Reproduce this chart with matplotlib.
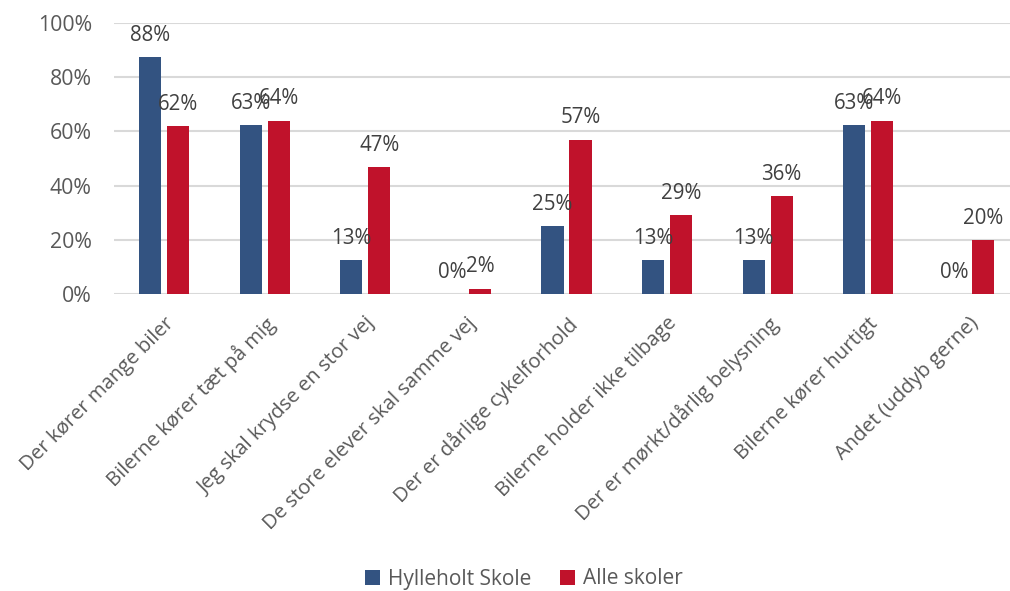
import matplotlib
matplotlib.use("Agg")
import matplotlib.pyplot as plt
import numpy as np

categories = ["Der kører mange biler", "Bilerne kører tæt på mig", "Jeg skal krydse en stor vej",
              "De store elever skal samme vej", "Der er dårlige cykelforhold", "Bilerne holder ikke tilbage",
              "Der er mørkt/dårlig belysning", "Bilerne kører hurtigt", "Andet (uddyb gerne)"]
hylleholt = [87.5, 62.5, 12.5, 0, 25, 12.5, 12.5, 62.5, 0]
alle = [62, 64, 47, 2, 57, 29, 36, 64, 20]
series_names = ["Hylleholt Skole", "Alle skoler"]
yticks = [0, 20, 40, 60, 80, 100]

plt.rcParams['font.family'] = ['Open Sans', 'DejaVu Sans']

W, H = 1010, 591
fig = plt.figure(figsize=(W/100, H/100), dpi=100)
x0, x1 = 114, 1019
y0, y1 = 294, 23
ax = fig.add_axes([x0/W, 1 - y0/H, (x1 - x0)/W, (y0 - y1)/H])

blue = "#335381"
red = "#C0122B"
x = np.arange(len(categories))
bw = 0.22
off = 0.139
b1 = ax.bar(x - off, hylleholt, bw, color=blue, label=series_names[0], zorder=3)
b2 = ax.bar(x + off, alle, bw, color=red, label=series_names[1], zorder=3)

def fmt(v):
    return f"{int(v + 0.5)}%"

for bars, vals in ((b1, hylleholt), (b2, alle)):
    for r, v in zip(bars, vals):
        ax.annotate(fmt(v), (r.get_x() + r.get_width()/2, v), xytext=(0, 8),
                    textcoords="offset points", ha="center", va="bottom",
                    fontsize=14.8, color="#404040", zorder=4)

ax.set_xlim(-0.5, len(categories) - 0.5)
ax.set_ylim(0, 100)
ax.set_yticks(yticks)
ax.set_yticklabels([f"{t}%" for t in yticks], fontsize=15.3, color="#595959")
ax.yaxis.grid(True, color="#d9d9d9", linewidth=1.5, zorder=0)
ax.set_axisbelow(True)
for s in ax.spines.values():
    s.set_visible(False)
ax.tick_params(axis="both", length=0)
ax.tick_params(axis="y", pad=16)
ax.set_xticks(x)
ax.set_xticklabels(categories, rotation=45, ha="right", rotation_mode="anchor",
                   fontsize=14.6, color="#595959")
ax.tick_params(axis="x", pad=14)

leg = fig.legend(handles=[b1, b2], labels=series_names, loc="center", ncol=2,
                 bbox_to_anchor=(524/W, 1 - 579/H), frameon=False, fontsize=15,
                 handlelength=0.7, handleheight=0.7, handletextpad=0.4, columnspacing=1.4)
for t in leg.get_texts():
    t.set_color("#595959")

fig.savefig("out.png", dpi=100)
